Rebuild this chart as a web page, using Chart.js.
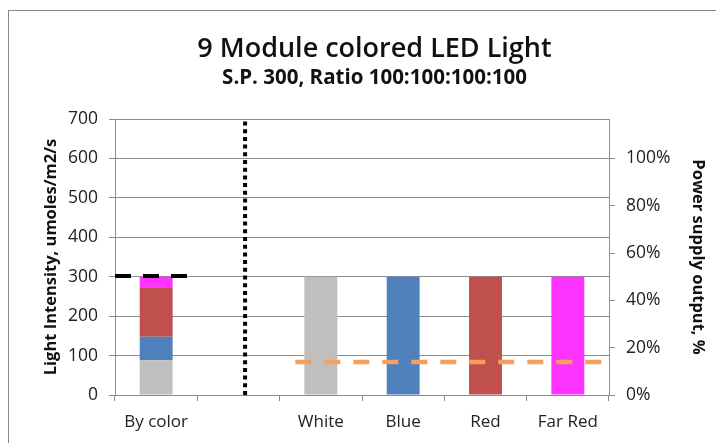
<!DOCTYPE html>
<html>
<head>
<meta charset="utf-8">
<script src="https://cdn.jsdelivr.net/npm/chart.js@4"></script>
<style>
  body { margin: 0; background: #fff; }
  #wrap { position: relative; width: 716px; height: 443px; overflow: hidden; }
  #frame { position: absolute; left: 8px; top: 10px; width: 720px; height: 440px; border: 1px solid #8a8a8a; }
  canvas { position: absolute; left: 0; top: 0; }
</style>
</head>
<body>
<div id="wrap">
  <div id="frame"></div>
  <canvas id="myChart" width="716" height="443"></canvas>
</div>
<script>
// categories along the bottom
const categories = ['By color', '', 'White', 'Blue', 'Red', 'Far Red'];
// "By color" stacked split (white, blue, red, far red)
const byColor = [88, 60, 125, 27];
// single color bars
const single = [300, 300, 300, 300];
// set point line and power supply output
const setPoint = 302;
const powerOut = 0.14;
const leftTicks = [0, 100, 200, 300, 400, 500, 600, 700];
const rightTicks = [0, 0.2, 0.4, 0.6, 0.8, 1.0];

// line extents in category units (hidden linear axis 0..6)
const setPointSpan = [0, 0.92];
const dividerAt = 1.58;
const powerSpan = [2.19, 6];

const colors = ['#BFBFBF', '#4F81BD', '#C0504D', '#FF33FF'];
const names = ['White', 'Blue', 'Red', 'Far Red'];
const font = 'Open Sans';

const barSets = names.map((n, i) => {
  const d = categories.map(() => null);
  d[0] = byColor[i];
  d[2 + i] = single[i];
  return {
    type: 'bar', label: n, data: d, backgroundColor: colors[i],
    barPercentage: 0.4, categoryPercentage: 1, grouped: false, order: 2,
    xAxisID: 'x', yAxisID: 'y'
  };
});

const lineBase = { type: 'line', pointRadius: 0, fill: false, borderCapStyle: 'butt', order: 0, xAxisID: 'x2' };

new Chart(document.getElementById('myChart'), {
  data: {
    labels: categories,
    datasets: [
      ...barSets,
      Object.assign({}, lineBase, {
        label: 'Set point', stack: 's1', yAxisID: 'y',
        data: [{ x: setPointSpan[0], y: setPoint }, { x: setPointSpan[1], y: setPoint }],
        borderColor: '#000', borderWidth: 4, borderDash: [16, 12]
      }),
      Object.assign({}, lineBase, {
        label: 'Divider', stack: 's2', yAxisID: 'y',
        data: [{ x: dividerAt, y: leftTicks[0] }, { x: dividerAt, y: leftTicks[leftTicks.length - 1] }],
        borderColor: '#000', borderWidth: 4, borderDash: [4, 3.7]
      }),
      Object.assign({}, lineBase, {
        label: 'Power supply output', stack: 's3', yAxisID: 'y2',
        data: [{ x: powerSpan[0], y: powerOut }, { x: powerSpan[1], y: powerOut }],
        borderColor: '#F6A05E', borderWidth: 4.5, borderDash: [16, 13]
      })
    ]
  },
  options: {
    responsive: false,
    animation: false,
    layout: { padding: { top: 10, left: 37, right: 4, bottom: 3 } },
    plugins: {
      legend: { display: false },
      tooltip: { enabled: false },
      title: {
        display: true, text: '9 Module colored LED Light', color: '#111',
        font: { family: font, size: 27, weight: '600' },
        padding: { top: 23, bottom: 0 }
      },
      subtitle: {
        display: true, text: 'S.P. 300, Ratio 100:100:100:100', color: '#111',
        font: { family: font, size: 20.5, weight: 'bold' },
        padding: { top: 0, bottom: 29 }
      }
    },
    scales: {
      x: {
        type: 'category', stacked: true, offset: true,
        grid: { drawOnChartArea: false, drawTicks: true, tickLength: 6, offset: true, color: '#8c8c8c' },
        border: { color: '#8c8c8c' },
        ticks: { color: '#222', font: { family: font, size: 17 }, padding: 11 },
        afterFit: s => { s.height = 45; }
      },
      x2: { type: 'linear', min: 0, max: categories.length, display: false },
      y: {
        stacked: true, min: leftTicks[0], max: leftTicks[leftTicks.length - 1],
        afterBuildTicks: s => { s.ticks = leftTicks.map(v => ({ value: v })); },
        ticks: { color: '#222', font: { family: font, size: 17.5 }, padding: 11 },
        grid: { color: '#8c8c8c', tickLength: 6 },
        border: { color: '#8c8c8c' },
        title: {
          display: true, text: 'Light Intensity, umoles/m2/s', color: '#111',
          font: { family: font, size: 16.5, weight: 'bold' }
        },
        afterFit: s => { s.width = 78; }
      },
      y2: {
        position: 'right', min: 0, max: 7 / 6,
        afterBuildTicks: s => { s.ticks = rightTicks.map(v => ({ value: v })); },
        ticks: { color: '#222', font: { family: font, size: 17.5 }, padding: 11,
          callback: v => Math.round(v * 100) + '%' },
        grid: { drawOnChartArea: false, color: '#8c8c8c', tickLength: 6 },
        border: { color: '#8c8c8c' },
        title: {
          display: true, text: 'Power supply output, %', color: '#111',
          font: { family: font, size: 16.5, weight: 'bold' }
        },
        afterFit: s => { s.width = 103; }
      }
    }
  }
});
</script>
</body>
</html>
